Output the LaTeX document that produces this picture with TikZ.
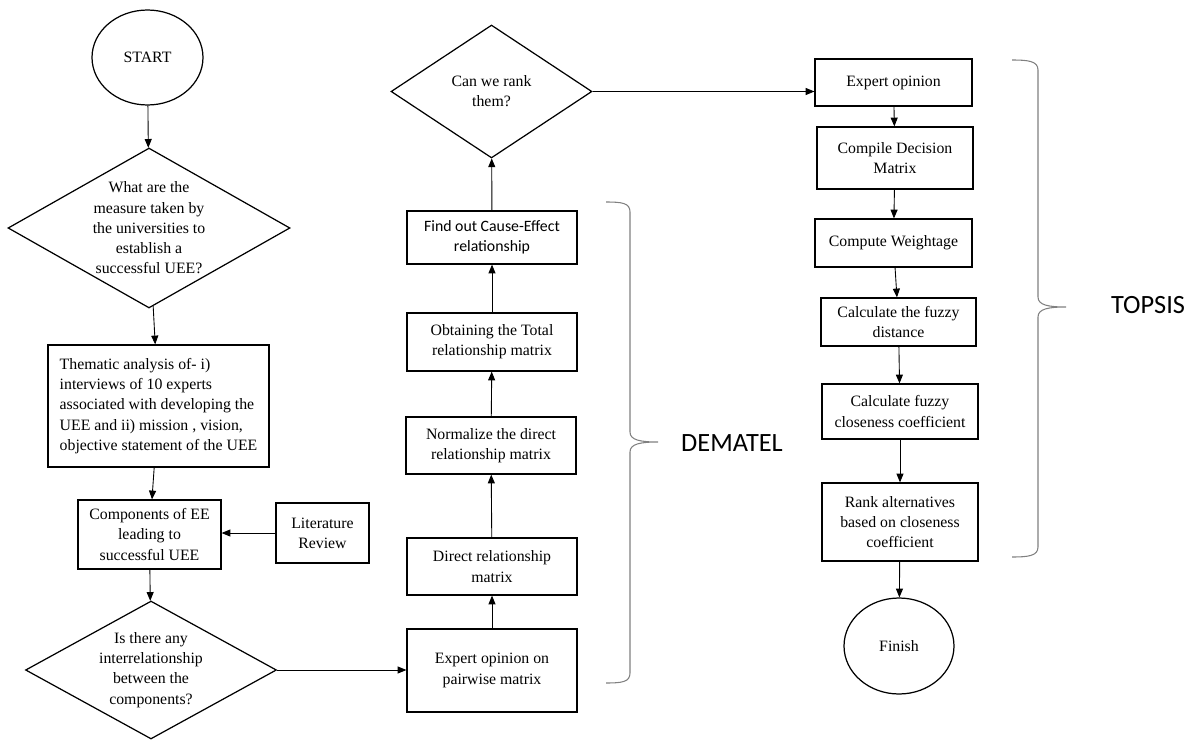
\documentclass[tikz,border=0pt]{standalone}
\usepackage{fontspec}
\setmainfont{Liberation Serif}
\newfontfamily\calibri{Carlito}
\usetikzlibrary{positioning,shapes.geometric,arrows.meta}

\begin{document}
\begin{tikzpicture}[
  x=0.02cm, y=-0.02cm,
  every node/.style={font=\fontsize{9}{11.5}\selectfont},
  box/.style={rectangle, draw, line width=0.7pt, align=center, inner sep=2pt},
  term/.style={ellipse, draw, line width=0.7pt},
  dec/.style={diamond, draw, line width=0.7pt, inner sep=0pt},
  arr/.style={-{Triangle[length=5pt,width=4pt]}, line width=0.5pt},
  brc/.style={draw=gray, line width=0.6pt},
  tag/.style={font=\calibri\fontsize{15}{18}\selectfont}
]
  \useasboundingbox (0,0) rectangle (1197,740);

  % left column
  \node[term, minimum width=2.22cm, minimum height=1.9cm] (start) at (147.5,57.5) {START};
  \node[dec, minimum width=5.64cm, minimum height=3.2cm] (q1) at (149,228) {};
  \node[align=center] (q1t) at (q1) {What are the\\measure taken by\\the universities to\\establish a\\successful UEE?};
  \node[box, align=left, minimum width=4.42cm, minimum height=2.44cm] (them) at (158.5,406)
    {Thematic analysis of- i)\\interviews of 10 experts\\associated with developing the\\UEE and ii) mission , vision,\\objective statement of the UEE};
  \node[box, minimum width=2.86cm, minimum height=1.38cm] (comp) at (149.5,534.5) {Components of EE\\leading to\\successful UEE};
  \node[box, minimum width=1.86cm, minimum height=1.2cm] (lit) at (322.5,533) {Literature\\Review};
  \node[dec, minimum width=5.02cm, minimum height=2.76cm] (q2) at (151,670) {};
  \node[align=center] (q2t) at (q2) {Is there any\\interrelationship\\between the\\components?};

  % DEMATEL column
  \node[box, minimum width=3.4cm, minimum height=1.66cm] (pair) at (492,670.5) {Expert opinion on\\pairwise matrix};
  \node[box, minimum width=3.4cm, minimum height=1.14cm] (direct) at (492,566.5) {Direct relationship\\matrix};
  \node[box, minimum width=3.4cm, minimum height=1.14cm] (norm) at (491,445.5) {Normalize the direct\\relationship matrix};
  \node[box, minimum width=3.4cm, minimum height=1.16cm] (total) at (492,342) {Obtaining the Total\\relationship matrix};
  \node[box, font=\calibri\fontsize{9}{11.5}\selectfont, minimum width=3.4cm, minimum height=1.06cm] (cause) at (492,237.5) {Find out Cause-Effect\\relationship};
  \node[dec, minimum width=4.02cm, minimum height=2.66cm] (q3) at (491.5,91.5) {};
  \node[align=center] (q3t) at (q3) {Can we rank\\them?};

  % TOPSIS column
  \node[box, minimum width=3.14cm, minimum height=0.94cm] (expop) at (893.5,82.5) {Expert opinion};
  \node[box, minimum width=3.12cm, minimum height=1.24cm] (dmat) at (895,158) {Compile Decision\\Matrix};
  \node[box, minimum width=3.14cm, minimum height=0.96cm] (wgt) at (893.5,243) {Compute Weightage};
  \node[box, minimum width=3.1cm, minimum height=0.96cm] (dist) at (898.5,322) {Calculate the fuzzy\\distance};
  \node[box, minimum width=3.12cm, minimum height=1.1cm] (cc) at (900,411.5) {Calculate fuzzy\\closeness coefficient};
  \node[box, minimum width=3.12cm, minimum height=1.56cm] (rank) at (900,522) {Rank alternatives\\based on closeness\\coefficient};
  \node[term, minimum width=2.2cm, minimum height=1.92cm] (finish) at (899,646) {Finish};

  % connectors
  \draw[arr] (start) -- (q1);
  \draw[arr] (q1) -- (them);
  \draw[arr] (them) -- (comp);
  \draw[arr] (lit.west) -- (lit.west -| comp.east);
  \draw[arr] (comp) -- (q2);
  \draw[arr] (q2.east) -- (q2.east -| pair.west);
  \draw[arr] (pair) -- (direct);
  \draw[arr] (direct) -- (norm);
  \draw[arr] (norm) -- (total);
  \draw[arr] (total) -- (cause);
  \draw[arr] (cause) -- (q3);
  \draw[arr] (q3.east) -- (q3.east -| expop.west);
  \draw[arr] (expop) -- (dmat);
  \draw[arr] (dmat) -- (wgt);
  \draw[arr] (wgt) -- (dist);
  \draw[arr] (dist) -- (cc);
  \draw[arr] (cc) -- (rank);
  \draw[arr] (rank) -- (finish);

  % braces
  \draw[brc] (606,202) .. controls (622,202) and (630,203) .. (630,212) -- (630,432)
    .. controls (630,440) and (640,442) .. (658,442)
    .. controls (640,442) and (630,444) .. (630,452) -- (630,673)
    .. controls (630,682) and (622,683) .. (606,683);
  \draw[brc] (1012,60) .. controls (1028,60) and (1038,61) .. (1038,70) -- (1038,297)
    .. controls (1038,305) and (1048,307) .. (1066,307)
    .. controls (1048,307) and (1038,309) .. (1038,317) -- (1038,547)
    .. controls (1038,556) and (1028,557) .. (1012,557);
  \node[tag] (dem) at (732,443) {DEMATEL};
  \node[tag] (top) at (1148,305) {TOPSIS};
\end{tikzpicture}
\end{document}
